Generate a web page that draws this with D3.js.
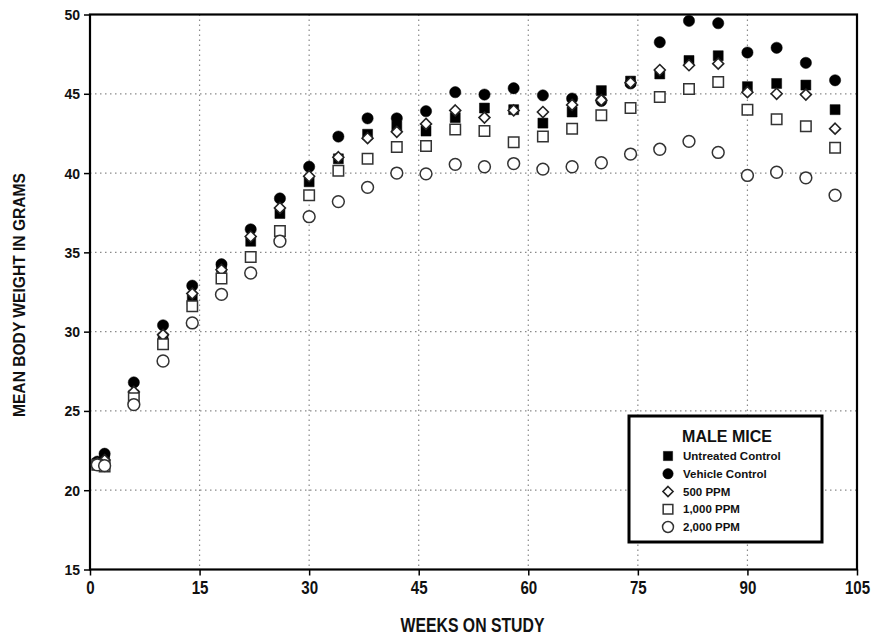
<!DOCTYPE html>
<html>
<head>
<meta charset="utf-8">
<script src="https://cdn.jsdelivr.net/npm/d3@7/dist/d3.min.js"></script>
<style>
  html, body { margin: 0; padding: 0; background: #fff; }
  svg { display: block; }
</style>
</head>
<body>
<svg id="chart" width="877" height="639"></svg>
<script>
// ---- data ----
const weeks = [1,2,6,10,14,18,22,26,30,34,38,42,46,50,54,58,62,66,70,74,78,82,86,90,94,98,102];
const untreated = [21.7,22.0,26.0,29.6,32.0,34.05,35.7,37.45,39.45,40.9,42.45,42.95,42.65,43.5,44.1,44.0,43.15,43.85,45.2,45.8,46.25,47.1,47.4,45.45,45.65,45.55,44.0];
const vehicle = [21.8,22.3,26.8,30.4,32.9,34.25,36.45,38.4,40.4,42.3,43.45,43.45,43.9,45.1,44.95,45.35,44.9,44.7,44.55,45.65,48.25,49.6,49.45,47.6,47.9,46.95,45.85];
const ppm500 = [21.7,21.9,26.2,29.8,32.4,33.9,36.0,37.8,39.8,41.0,42.2,42.6,43.1,43.95,43.5,43.95,43.85,44.3,44.6,45.7,46.5,46.8,46.9,45.1,45.0,44.95,42.8];
const ppm1000 = [21.6,21.5,25.8,29.2,31.6,33.35,34.7,36.35,38.6,40.15,40.9,41.65,41.7,42.75,42.65,41.95,42.3,42.8,43.65,44.1,44.8,45.3,45.75,44.0,43.4,42.95,41.6];
const ppm2000 = [21.6,21.55,25.4,28.15,30.55,32.35,33.7,35.7,37.25,38.2,39.1,40.0,39.95,40.55,40.4,40.6,40.25,40.4,40.65,41.2,41.5,42.0,41.3,39.85,40.05,39.7,38.6];
const seriesNames = ["Untreated Control","Vehicle Control","500 PPM","1,000 PPM","2,000 PPM"];
const xTicks = [0,15,30,45,60,75,90,105];
const yTicks = [15,20,25,30,35,40,45,50];
const legendTitle = "MALE MICE";
const xTitle = "WEEKS ON STUDY";
const yTitle = "MEAN BODY WEIGHT IN GRAMS";

// ---- layout ----
const svg = d3.select("#chart");
const L = 90, R = 857, T = 14.5, B = 569.5;
const x = d3.scaleLinear().domain([0,105]).range([L,R]);
const y = d3.scaleLinear().domain([15,50]).range([B,T]);

const sans = "'Liberation Sans',Arial,Helvetica,sans-serif";

// square rotated 45 degrees (equal-sided diamond)
const squareDiamond = {
  draw(ctx, size) {
    const r = Math.sqrt(size / 2);
    ctx.moveTo(0, -r); ctx.lineTo(r, 0); ctx.lineTo(0, r); ctx.lineTo(-r, 0); ctx.closePath();
  }
};

// grid
const grid = svg.append("g");
grid.selectAll(".gx").data(xTicks.filter(d => d > 0 && d < 105)).enter().append("line")
  .attr("x1", d => x(d)).attr("x2", d => x(d)).attr("y1", T).attr("y2", B)
  .attr("stroke", "#8a8a8a").attr("stroke-width", 1.2).attr("stroke-dasharray", "1.5,3.5");
grid.selectAll(".gy").data(yTicks.filter(d => d > 15 && d < 50)).enter().append("line")
  .attr("x1", L).attr("x2", R).attr("y1", d => y(d)).attr("y2", d => y(d))
  .attr("stroke", "#8a8a8a").attr("stroke-width", 1.2).attr("stroke-dasharray", "1.5,3.5");

// axes
const xAxis = d3.axisBottom(x).tickValues(xTicks).tickSize(6).tickPadding(6).tickFormat(d3.format("d"));
const yAxis = d3.axisLeft(y).tickValues(yTicks).tickSize(6).tickPadding(4).tickFormat(d3.format("d"));
const gx = svg.append("g").attr("transform", `translate(0,${B})`).call(xAxis);
const gy = svg.append("g").attr("transform", `translate(${L},0)`).call(yAxis);
[gx, gy].forEach(g => {
  g.select(".domain").remove();
  g.selectAll(".tick line").attr("stroke", "#000").attr("stroke-width", 1.5);
});
gx.selectAll(".tick text").attr("font-family", sans).attr("font-weight", "bold")
  .attr("font-size", 18).attr("fill", "#111").attr("transform", "scale(0.84,1)");
gy.selectAll(".tick text").attr("font-family", sans).attr("font-weight", "bold")
  .attr("font-size", 14).attr("fill", "#111").attr("dy", "0.36em");

// frame
svg.append("rect").attr("x", L).attr("y", T).attr("width", R - L).attr("height", B - T)
  .attr("fill", "none").attr("stroke", "#000").attr("stroke-width", 2.2);

// titles
svg.append("g").attr("transform", `translate(${(L + R) / 2 - 1},632)`)
  .append("text").attr("text-anchor", "middle").attr("transform", "scale(0.79,1)")
  .attr("font-family", sans).attr("font-weight", "bold").attr("font-size", 20).attr("fill", "#111")
  .text(xTitle);
svg.append("text").attr("transform", `translate(25,${(T + B) / 2 + 3}) rotate(-90)`).attr("text-anchor", "middle")
  .attr("font-family", sans).attr("font-weight", "bold").attr("font-size", 15.6).attr("fill", "#111")
  .text(yTitle);

// markers
const sym = [
  { type: d3.symbolSquare, size: 100, fill: "#000", stroke: "#000", sw: 0.5 },
  { type: d3.symbolCircle, size: 100, fill: "#000", stroke: "#000", sw: 0.5 },
  { type: squareDiamond, size: 60, fill: "#fff", stroke: "#222", sw: 1.6 },
  { type: d3.symbolSquare, size: 110, fill: "#fff", stroke: "#333", sw: 1.5 },
  { type: d3.symbolCircle, size: 110, fill: "#fff", stroke: "#333", sw: 1.5 }
];
const allSeries = [untreated, vehicle, ppm500, ppm1000, ppm2000];
const pts = svg.append("g");
allSeries.forEach((vals, i) => {
  const s = sym[i];
  pts.append("g").selectAll("path").data(vals).enter().append("path")
    .attr("transform", (d, j) => `translate(${x(weeks[j])},${y(d)})`)
    .attr("d", d3.symbol().type(s.type).size(s.size))
    .attr("fill", s.fill).attr("stroke", s.stroke).attr("stroke-width", s.sw);
});

// legend
const lg = svg.append("g");
lg.append("rect").attr("x", 629).attr("y", 416).attr("width", 193).attr("height", 126)
  .attr("fill", "#fff").attr("stroke", "#000").attr("stroke-width", 3);
lg.append("text").attr("x", 727).attr("y", 442).attr("text-anchor", "middle")
  .attr("font-family", sans).attr("font-weight", "bold").attr("font-size", 16).attr("fill", "#111")
  .text(legendTitle);
const rowY = d3.scaleLinear().domain([0, 4]).range([456, 527]);
seriesNames.forEach((name, i) => {
  const s = sym[i];
  lg.append("path").attr("transform", `translate(668,${rowY(i)})`)
    .attr("d", d3.symbol().type(s.type).size(s.size * 0.85))
    .attr("fill", s.fill).attr("stroke", s.stroke).attr("stroke-width", s.sw);
  lg.append("text").attr("x", 683).attr("y", rowY(i) + 4)
    .attr("font-family", sans).attr("font-weight", "bold").attr("font-size", 11.5).attr("fill", "#111")
    .text(name);
});
</script>
</body>
</html>
